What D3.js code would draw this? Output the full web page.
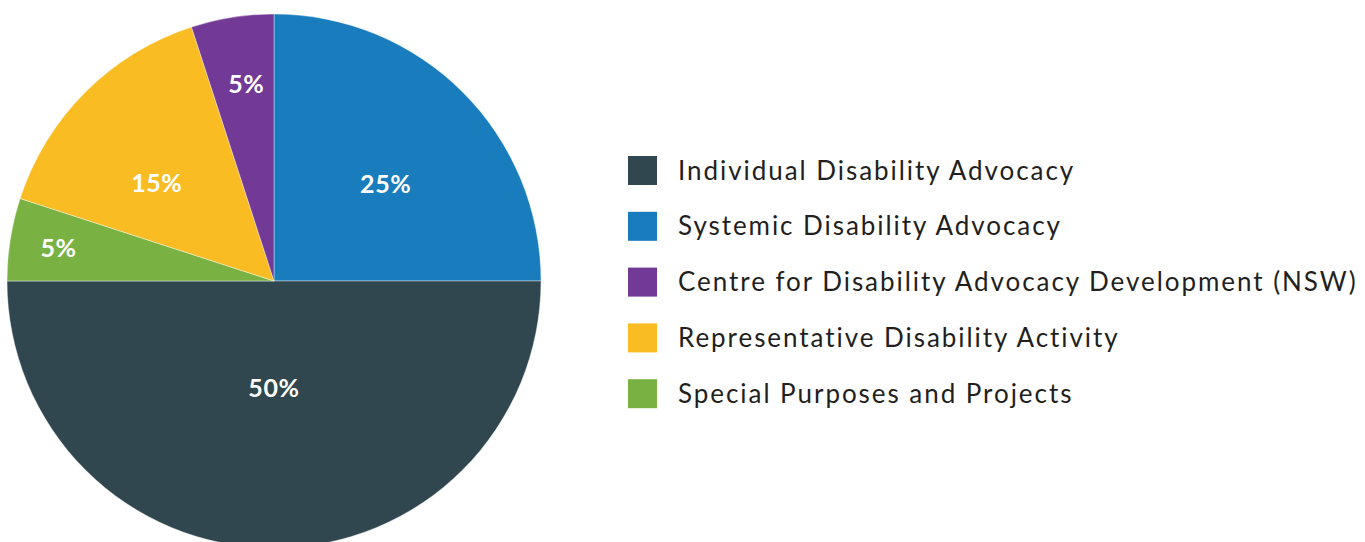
<!DOCTYPE html>
<html>
<head>
<meta charset="utf-8">
<script src="https://cdn.jsdelivr.net/npm/d3@7"></script>
<style>
  html, body { margin: 0; padding: 0; background: #ffffff; }
  svg { display: block; }
</style>
</head>
<body>
<svg id="chart" width="1365" height="542"></svg>
<script>
// Funding share by program stream (percent)
const categories = [
  "Individual Disability Advocacy",
  "Systemic Disability Advocacy",
  "Centre for Disability Advocacy Development (NSW)",
  "Representative Disability Activity",
  "Special Purposes and Projects"
];
const shares = [50, 25, 5, 15, 5];
const colors = ["#31474f", "#197cbd", "#723996", "#f9bc22", "#79b242"];

// Order in which the slices run clockwise from twelve o'clock
const sliceOrder = [
  "Systemic Disability Advocacy",
  "Individual Disability Advocacy",
  "Special Purposes and Projects",
  "Representative Disability Activity",
  "Centre for Disability Advocacy Development (NSW)"
];

const rows = categories.map((c, i) => ({ name: c, value: shares[i], color: colors[i] }));
const ordered = sliceOrder.map(n => rows.find(r => r.name === n));

const svg = d3.select("#chart");
const cx = 274, cy = 281, R = 267;

const pie = d3.pie().sort(null).value(d => d.value);
const arc = d3.arc().innerRadius(0).outerRadius(R);
const arcs = pie(ordered);

const g = svg.append("g").attr("transform", `translate(${cx},${cy})`);

g.selectAll("path.slice")
  .data(arcs)
  .join("path")
  .attr("class", "slice")
  .attr("d", arc)
  .attr("fill", d => d.data.color)
  .attr("stroke", "#ffffff")
  .attr("stroke-width", 0.4);

// Label placement per slice: distance from centre and a small angular nudge (degrees)
const labelPlacement = {
  "Systemic Disability Advocacy": [148, 4],
  "Individual Disability Advocacy": [107, 0],
  "Special Purposes and Projects": [218, -0.3],
  "Representative Disability Activity": [153, -5],
  "Centre for Disability Advocacy Development (NSW)": [199, 1]
};

g.selectAll("text.pct")
  .data(arcs)
  .join("text")
  .attr("class", "pct")
  .attr("transform", d => {
    const [r, nudge] = labelPlacement[d.data.name];
    const a = (d.startAngle + d.endAngle) / 2 + nudge * Math.PI / 180;
    return `translate(${r * Math.sin(a)},${-r * Math.cos(a)})`;
  })
  .attr("text-anchor", "middle")
  .attr("dy", "0.36em")
  .attr("fill", "#ffffff")
  .attr("font-family", "Lato, 'Open Sans', sans-serif")
  .attr("font-weight", 700)
  .attr("font-size", 25)
  .attr("letter-spacing", 0.6)
  .text(d => d.data.value + "%");

// Legend
const legendX = 628, legendY0 = 156, legendStep = 55.8, box = 29;
const legend = svg.append("g");
const items = legend.selectAll("g.item")
  .data(rows)
  .join("g")
  .attr("class", "item")
  .attr("transform", (d, i) => `translate(${legendX},${legendY0 + i * legendStep})`);

items.append("rect")
  .attr("width", box)
  .attr("height", box)
  .attr("fill", d => d.color);

items.append("text")
  .attr("x", 50)
  .attr("y", box / 2)
  .attr("dy", "0.35em")
  .attr("fill", "#231f20")
  .attr("font-family", "Lato, 'Open Sans', sans-serif")
  .attr("font-size", 26)
  .attr("letter-spacing", 1.95)
  .text(d => d.name);
</script>
</body>
</html>
